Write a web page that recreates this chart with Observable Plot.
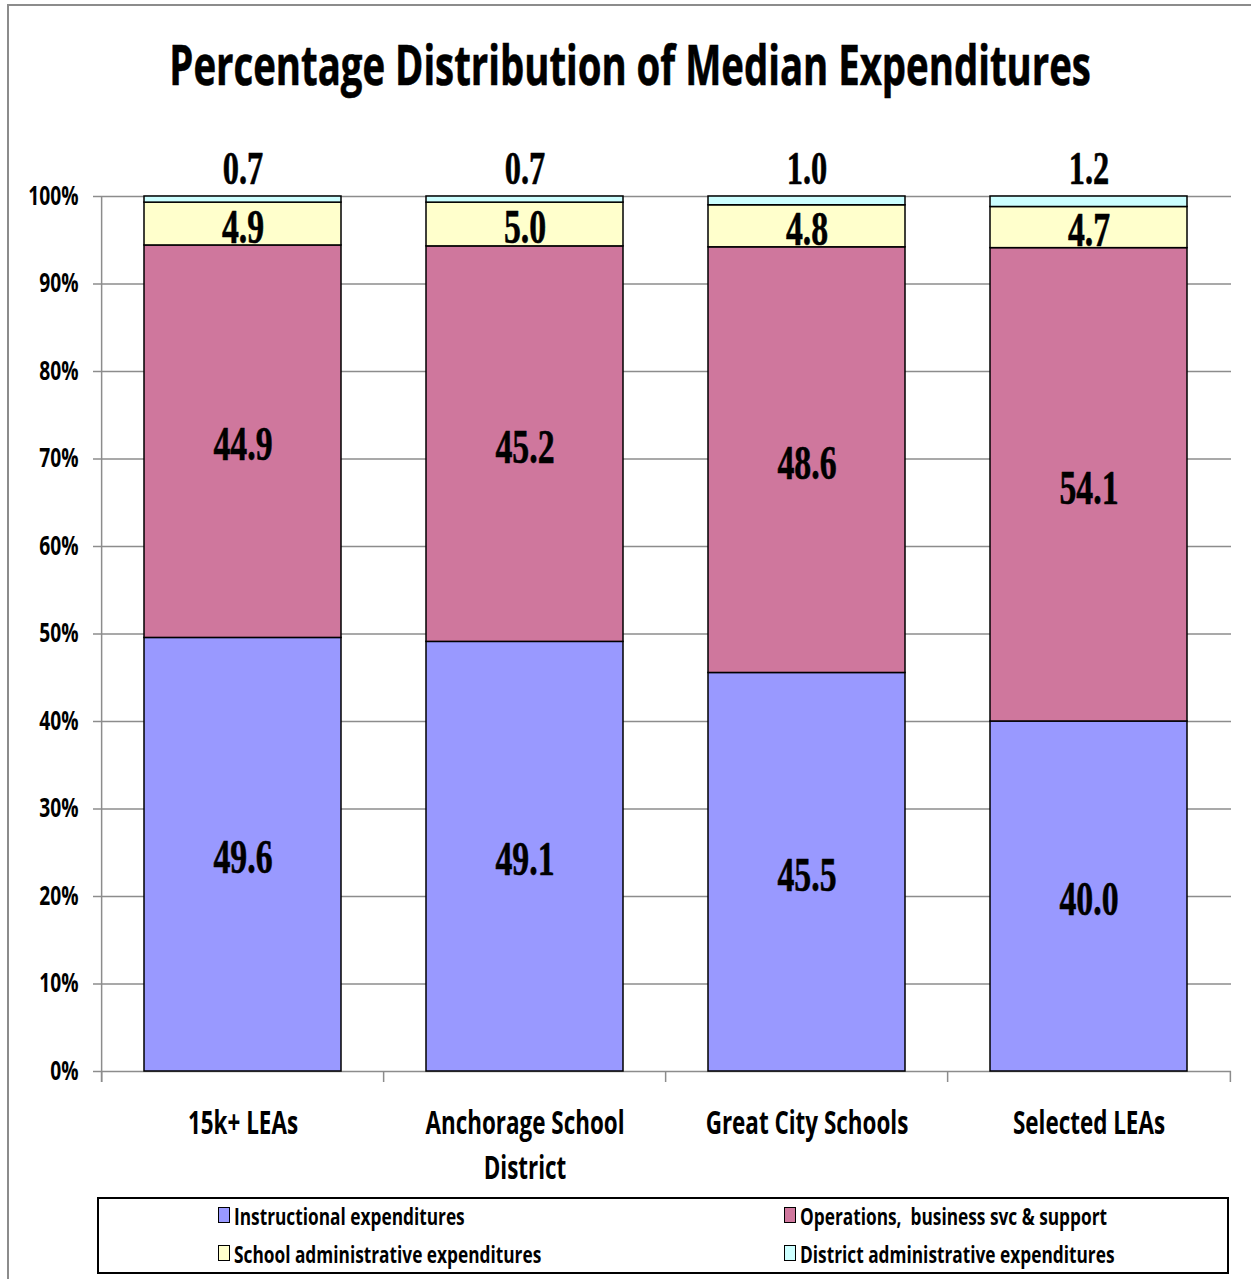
<!DOCTYPE html>
<html>
<head>
<meta charset="utf-8">
<script src="https://cdn.jsdelivr.net/npm/d3@7"></script>
<script src="https://cdn.jsdelivr.net/npm/@observablehq/plot@0.6"></script>
<style>
  html, body { margin: 0; padding: 0; background: #fff; }
  #page { position: relative; width: 1251px; height: 1279px; overflow: hidden; background: #fff; }
  #frame { position: absolute; left: 7px; top: 4px; width: 1400px; height: 1400px;
           border-left: 2px solid #8c8c8c; border-top: 2px solid #8c8c8c; box-sizing: border-box; }
  #title { position: absolute; left: -370px; top: 36px; width: 2000px; display: flex; justify-content: center; line-height: 1; }
  #title span { display: inline-block; white-space: nowrap; font-family: "Open Sans", sans-serif;
                font-weight: 700; font-size: 55px; line-height: 1; transform: scaleX(0.697); transform-origin: center;
                -webkit-text-stroke: 0.6px #000; }
  #chart { position: absolute; left: 0; top: 140px; }
  #legend { position: absolute; left: 97px; top: 1197px; width: 1132px; height: 77px;
            border: 2px solid #000; box-sizing: border-box; background: #fff; }
  .item { position: absolute; display: flex; align-items: center; height: 30px; }
  .sw { width: 12px; height: 16px; border: 1px solid #000; box-sizing: border-box; margin-right: 4px; flex: none; }
  .lt { display: inline-block; white-space: pre; font-family: "Open Sans", sans-serif; font-weight: 700;
        font-size: 24px; transform: scaleX(0.72); transform-origin: left center; }
</style>
</head>
<body>
<div id="page">
  <div id="frame"></div>
  <div id="title"><span>Percentage Distribution of Median Expenditures</span></div>
  <div id="chart"></div>
  <div id="legend"></div>
</div>
<script>
// ---- data ----
const categories = ["15k+ LEAs", "Anchorage School District", "Great City Schools", "Selected LEAs"];
const tickLabels = ["15k+ LEAs", "Anchorage School\nDistrict", "Great City Schools", "Selected LEAs"];
const series = [
  "Instructional expenditures",
  "Operations,  business svc & support",
  "School administrative expenditures",
  "District administrative expenditures"
];
const instructional = [49.6, 49.1, 45.5, 40.0];
const operations = [44.9, 45.2, 48.6, 54.1];
const schoolAdmin = [4.9, 5.0, 4.8, 4.7];
const districtAdmin = [0.7, 0.7, 1.0, 1.2];
const yTicks = [0, 0.1, 0.2, 0.3, 0.4, 0.5, 0.6, 0.7, 0.8, 0.9, 1.0];
const colors = ["#9999ff", "#cf779d", "#ffffcc", "#ccffff"];

const seriesValues = [instructional, operations, schoolAdmin, districtAdmin];
const rows = [];
categories.forEach((cat, i) => {
  series.forEach((s, j) => rows.push({cat, series: s, value: seriesValues[j][i]}));
});
const topRows = rows.filter(d => d.series === series[3]);
const fmt = v => v.toFixed(1);

const W = 1251, H = 1050;
const mL = 100, mR = 20, mT = 56, mB = 119;
const step = (W - mL - mR) / 4; // band step with paddingInner .3 / paddingOuter .15
const grey = "#8c8c8c";
const serif = "Liberation Serif, Times New Roman, serif";
const sans = "Open Sans, sans-serif";

const chart = Plot.plot({
  width: W, height: H,
  marginLeft: mL, marginRight: mR, marginTop: mT, marginBottom: mB,
  style: {background: "transparent", overflow: "visible"},
  x: {domain: categories, paddingInner: 0.3, paddingOuter: 0.15},
  y: {domain: [0, 1]},
  color: {domain: series, range: colors},
  marks: [
    Plot.gridY(yTicks, {stroke: grey, strokeOpacity: 1, strokeWidth: 1.5}),
    // y axis line (extends down to tick length)
    Plot.ruleX([categories[0]], {x: d => d, y1: 0, y2: 1, dx: -step / 2, insetTop: 11, stroke: grey, strokeWidth: 1.5}),
    // category boundary tick marks
    Plot.ruleX(categories, {x: d => d, y1: 0, y2: 0, dx: -step / 2, insetBottom: -11, stroke: grey, strokeWidth: 1.5}),
    Plot.ruleX([categories[categories.length - 1]], {x: d => d, y1: 0, y2: 0, dx: step / 2, insetBottom: -11, stroke: grey, strokeWidth: 1.5}),
    Plot.axisY({ticks: yTicks, tickFormat: d3.format(".0%"), tickSize: 7, tickPadding: 15, stroke: grey, strokeWidth: 1.5,
                fill: "black", fontSize: 26, fontFamily: sans, fontWeight: 700, label: null}),
    Plot.axisX({tickSize: 0, tickPadding: 31, tickFormat: d => tickLabels[categories.indexOf(d)], lineHeight: 1.36,
                fill: "black", fontSize: 33, fontFamily: sans, fontWeight: 700, label: null}),
    Plot.barY(rows, {x: "cat", y: "value", fill: "series", offset: "normalize", stroke: "black", strokeWidth: 1.5}),
    Plot.text(rows, Plot.stackY({x: "cat", y: "value", z: "series", offset: "normalize",
      text: d => d.series === series[3] ? null : fmt(d.value),
      fontSize: 49, fontFamily: serif, fontWeight: "bold", fill: "black", stroke: "black", strokeWidth: 0.6, dy: 3})),
    Plot.text(topRows, {x: "cat", frameAnchor: "top", text: d => fmt(d.value), lineAnchor: "bottom", dy: -13,
      fontSize: 47, fontFamily: serif, fontWeight: "bold", fill: "black", stroke: "black", strokeWidth: 0.6})
  ]
});

function squeeze(svg, label, s) {
  svg.querySelectorAll(`g[aria-label="${label}"]`).forEach(g => {
    g.querySelectorAll("text").forEach(t => {
      const tr = t.getAttribute("transform");
      if (tr) t.setAttribute("transform", tr + ` scale(${s},1)`);
      else {
        const x = +t.getAttribute("x") || 0, y = +t.getAttribute("y") || 0;
        t.removeAttribute("x"); t.removeAttribute("y");
        t.setAttribute("transform", `translate(${x},${y}) scale(${s},1)`);
      }
    });
  });
}
squeeze(chart, "text", 0.69);
squeeze(chart, "y-axis tick label", 0.74);
squeeze(chart, "x-axis tick label", 0.68);
document.getElementById("chart").appendChild(chart);

// legend
const legend = document.getElementById("legend");
const pos = [[119, 1], [685, 1], [119, 39], [685, 39]];
[0, 1, 2, 3].forEach((j, k) => {
  const it = document.createElement("div");
  it.className = "item";
  it.style.left = pos[k][0] + "px";
  it.style.top = pos[k][1] + "px";
  const sw = document.createElement("div");
  sw.className = "sw";
  sw.style.background = colors[j];
  const lt = document.createElement("span");
  lt.className = "lt";
  lt.textContent = series[j];
  it.appendChild(sw); it.appendChild(lt);
  legend.appendChild(it);
});
</script>
</body>
</html>
